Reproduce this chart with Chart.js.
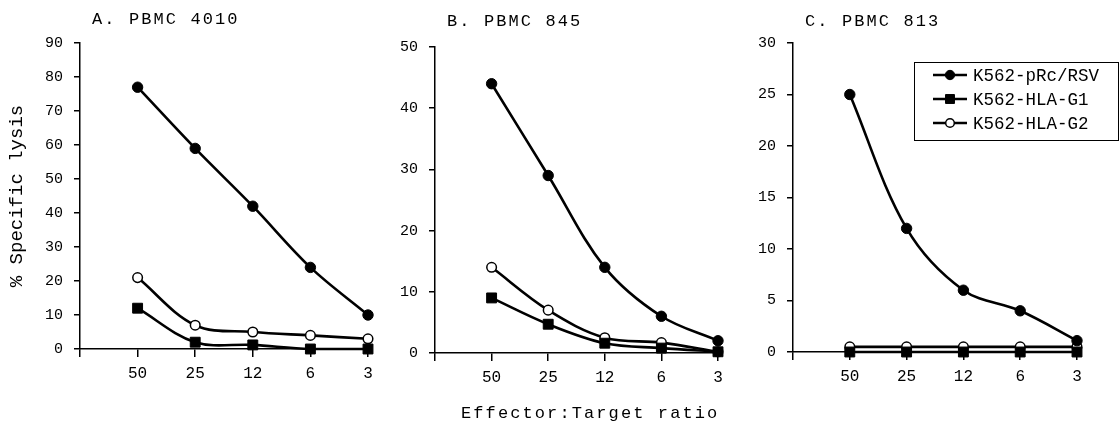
<!DOCTYPE html>
<html>
<head>
<meta charset="utf-8">
<script src="https://cdn.jsdelivr.net/npm/chart.js@4.4.0/dist/chart.umd.min.js"></script>
<style>
  body { margin: 0; background: #fff; width: 1119px; height: 427px; overflow: hidden; position: relative;
         font-family: "Liberation Mono", monospace; color: #000; }
  canvas { position: absolute; top: 0; }
  .ttl { position: absolute; font-size: 17px; line-height: 17px; letter-spacing: 2.1px; white-space: nowrap; }
</style>
</head>
<body>
<canvas id="chartA" width="380" height="427" style="left:0"></canvas>
<canvas id="chartB" width="370" height="427" style="left:380px"></canvas>
<canvas id="chartC" width="369" height="427" style="left:750px"></canvas>
<div class="ttl" style="left:92px;top:11px">A. PBMC 4010</div>
<div class="ttl" style="left:447px;top:13px">B. PBMC 845</div>
<div class="ttl" style="left:805px;top:13px">C. PBMC 813</div>
<div class="ttl" style="left:461px;top:405px">Effector:Target ratio</div>

<script>
// ================================
// Data
// ================================

const ratios = ['50', '25', '12', '6', '3'];
const seriesNames = ['K562-pRc/RSV', 'K562-HLA-G1', 'K562-HLA-G2'];

// A. PBMC 4010
const lysisA_pRc = [77, 59, 42, 24, 10];
const lysisA_G1 = [12, 2, 1.2, 0, 0];
const lysisA_G2 = [21, 7, 5, 4, 3];

// B. PBMC 845
const lysisB_pRc = [44, 29, 14, 6, 2];
const lysisB_G1 = [9, 4.7, 1.6, 0.8, 0.2];
const lysisB_G2 = [14, 7, 2.5, 1.7, 0.2];

// C. PBMC 813
const lysisC_pRc = [25, 12, 6, 4, 1.1];
const lysisC_G1 = [0, 0, 0, 0, 0];
const lysisC_G2 = [0.5, 0.5, 0.5, 0.5, 0.5];

const yTicksA = { max: 90, step: 10 };
const yTicksB = { max: 50, step: 10 };
const yTicksC = { max: 30, step: 5 };

// ================================
// Styles
// ================================

const FONT = '"Liberation Mono", monospace';
const markerStyles = [
  { pointStyle: 'circle', radius: 5.2, fill: '#000', borderWidth: 1 },
  { pointStyle: 'rect', radius: 7, fill: '#000', borderWidth: 1 },
  { pointStyle: 'circle', radius: 4.8, fill: '#fff', borderWidth: 1.5 }
];

function makeDatasets(seriesList) {
  return seriesList.map((values, i) => ({
    label: seriesNames[i],
    data: values.map((v, j) => ({ x: j + 1, y: v })),
    borderColor: '#000',
    borderWidth: 2.6,
    tension: 0.35,
    clip: false,
    pointStyle: markerStyles[i].pointStyle,
    pointRadius: markerStyles[i].radius,
    pointBackgroundColor: markerStyles[i].fill,
    pointBorderColor: '#000',
    pointBorderWidth: markerStyles[i].borderWidth
  }));
}

// boxed legend with line + marker samples
const boxLegend = {
  id: 'boxLegend',
  afterDraw(chart) {
    const ctx = chart.ctx;
    const box = { x: 164, y: 62, w: 204, h: 78 };
    ctx.save();
    ctx.strokeStyle = '#000';
    ctx.lineWidth = 1;
    ctx.strokeRect(box.x + 0.5, box.y + 0.5, box.w, box.h);
    chart.data.datasets.forEach((ds, i) => {
      const y = 75 + i * 24;
      ctx.strokeStyle = '#000';
      ctx.lineWidth = 2.6;
      ctx.beginPath();
      ctx.moveTo(183, y);
      ctx.lineTo(217, y);
      ctx.stroke();
      ctx.fillStyle = markerStyles[i].fill;
      ctx.lineWidth = markerStyles[i].borderWidth;
      Chart.helpers.drawPoint(ctx, {
        pointStyle: markerStyles[i].pointStyle,
        radius: markerStyles[i].radius * 0.9,
        rotation: 0,
        borderWidth: markerStyles[i].borderWidth
      }, 200, y);
      ctx.fillStyle = '#000';
      ctx.font = '17.5px ' + FONT;
      ctx.textBaseline = 'middle';
      ctx.textAlign = 'left';
      ctx.fillText(ds.label, 223, y + 1);
    });
    ctx.restore();
  }
};

function makePanel(id, seriesList, yTicks, geo, yTitle, extraPlugins) {
  const canvas = document.getElementById(id);
  const axisGrid = {
    display: true,
    drawOnChartArea: false,
    drawTicks: true,
    color: '#000',
    lineWidth: 1.5
  };
  return new Chart(canvas, {
    type: 'line',
    data: { datasets: makeDatasets(seriesList) },
    plugins: extraPlugins || [],
    options: {
      responsive: false,
      animation: false,
      events: [],
      layout: { padding: { left: 0, top: geo.top, right: canvas.width - geo.right, bottom: 0 } },
      plugins: { legend: { display: false }, tooltip: { enabled: false } },
      scales: {
        x: {
          type: 'linear',
          min: 0,
          max: 5,
          grid: Object.assign({}, axisGrid, { tickLength: 8 }),
          border: { display: true, color: '#000', width: 1.5 },
          ticks: {
            stepSize: 1,
            autoSkip: false,
            maxRotation: 0,
            padding: 7,
            color: '#000',
            font: { family: FONT, size: 16 },
            callback: v => (v >= 1 ? ratios[v - 1] : '')
          },
          afterFit: scale => { scale.height = canvas.height - geo.bottom; }
        },
        y: {
          min: 0,
          max: yTicks.max,
          grid: Object.assign({}, axisGrid, { tickLength: 6 }),
          border: { display: true, color: '#000', width: 1.5 },
          ticks: {
            stepSize: yTicks.step,
            padding: 11,
            color: '#000',
            font: { family: FONT, size: 15 }
          },
          title: {
            display: !!yTitle,
            text: yTitle || '',
            color: '#000',
            font: { family: FONT, size: 19 },
            padding: { top: 6, bottom: 0 }
          },
          afterFit: scale => { scale.width = geo.axisX; }
        }
      }
    }
  });
}

makePanel('chartA', [lysisA_pRc, lysisA_G1, lysisA_G2], yTicksA,
  { axisX: 80, top: 43, bottom: 349, right: 368 }, '% Specific lysis');
makePanel('chartB', [lysisB_pRc, lysisB_G1, lysisB_G2], yTicksB,
  { axisX: 55, top: 47, bottom: 353, right: 338 });
makePanel('chartC', [lysisC_pRc, lysisC_G1, lysisC_G2], yTicksC,
  { axisX: 43, top: 43, bottom: 352, right: 327 }, null, [boxLegend]);
</script>
</body>
</html>
